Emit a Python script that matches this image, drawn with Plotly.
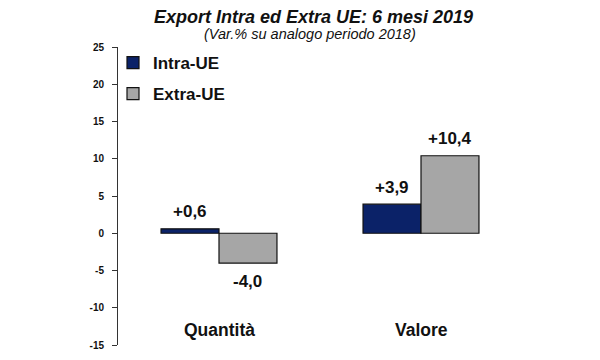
import plotly.graph_objects as go

categories = ["Quantità", "Valore"]
intra_ue = [0.6, 3.9]
extra_ue = [-4.0, 10.4]
series_names = ["Intra-UE", "Extra-UE"]
y_ticks = [25, 20, 15, 10, 5, 0, -5, -10, -15]

colors = ["#0b2268", "#a6a6a6"]
x_idx = list(range(len(categories)))
FONT = "Liberation Sans, Arial"

# page has an 8px body margin; the plot div starts at (8, 8)
OFF = 8
plot_top, plot_bottom = 47 - OFF, 345 - OFF
plot_left, plot_right = 118 - OFF, 522 - OFF
W, H = 600, 360

def py(pix):
    return (plot_bottom - (pix - OFF)) / (plot_bottom - plot_top)

def px(pix):
    return ((pix - OFF) - plot_left) / (plot_right - plot_left)

fig = go.Figure()
for name, vals, col, grp in zip(series_names, [intra_ue, extra_ue], colors, ["a", "b"]):
    fig.add_trace(go.Bar(
        x=x_idx, y=vals, name=name, legendgroup=grp,
        marker=dict(color=col, line=dict(color="#111111", width=1.2)),
    ))

def fmt(v):
    return f"{v:+.1f}".replace(".", ",")

bar_w = 0.287
for k, vals in enumerate([intra_ue, extra_ue]):
    off = (-0.5 + k) * bar_w
    for i, v in enumerate(vals):
        fig.add_annotation(
            x=i + off, y=v, xref="x", yref="y", text=fmt(v), showarrow=False,
            yanchor="middle", yshift=17 if v >= 0 else -18,
            font=dict(family=FONT, size=17, color="#111111", weight="bold"),
        )
for i, c in enumerate(categories):
    fig.add_annotation(
        x=i, y=-13.0, xref="x", yref="y", text=c, showarrow=False,
        font=dict(family=FONT, size=17.5, color="#111111", weight="bold"),
    )
fig.add_annotation(
    x=px(313), y=py(17), xref="paper", yref="paper", yanchor="middle",
    text="<b><i>Export Intra ed Extra UE: 6 mesi 2019</i></b>", showarrow=False,
    font=dict(family=FONT, size=18, color="#111111"), borderpad=0,
)
fig.add_annotation(
    x=px(310), y=py(34), xref="paper", yref="paper", yanchor="middle",
    text="<i>(Var.% su analogo periodo 2018)</i>", showarrow=False,
    font=dict(family=FONT, size=14.5, color="#111111"),
)

fig.update_layout(
    width=W, height=H,
    margin=dict(l=plot_left, r=W - plot_right, t=plot_top, b=H - plot_bottom),
    paper_bgcolor="white", plot_bgcolor="white",
    barmode="group", bargap=0.426, bargroupgap=0,
    showlegend=True,
    legend=dict(
        x=px(113), y=py(45), xanchor="left", yanchor="top",
        traceorder="grouped", tracegroupgap=6,
        font=dict(family=FONT, size=17, color="#111111", weight="bold"),
        itemwidth=30, bgcolor="rgba(0,0,0,0)",
    ),
    xaxis=dict(range=[-0.5, 1.5], showticklabels=False, showline=False,
               showgrid=False, zeroline=False, ticks=""),
    yaxis=dict(range=[-15, 25], tickvals=y_ticks, ticktext=[str(t) for t in y_ticks],
               showline=True, linecolor="#333333", linewidth=1,
               ticks="outside", ticklen=5, tickcolor="#333333",
               showgrid=False, zeroline=False,
               tickfont=dict(family=FONT, size=10, color="#111111", weight="bold"),
               ticklabelstandoff=6),
)

fig.write_html("out.html")
